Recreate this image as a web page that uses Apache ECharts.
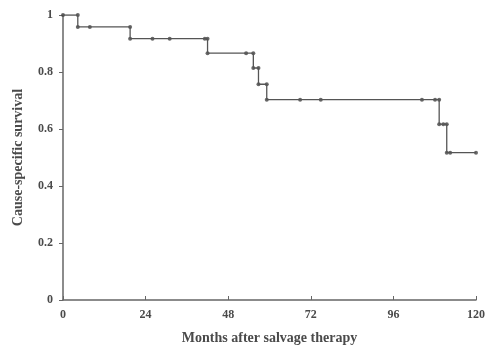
<!DOCTYPE html>
<html>
<head>
<meta charset="UTF-8">
<script src="https://cdn.jsdelivr.net/npm/echarts@6/dist/echarts.min.js"></script>
<style>
  body { margin: 0; background: #fff; }
  #root { width: 488px; height: 350px; }
</style>
</head>
<body>
<div id="root"></div>
<script>
// step corners of the survival curve (months, survival)
var stepMonths = [0, 4.3, 19.5, 42, 55.3, 56.8, 59.2, 109.3, 111.5, 120];
var stepSurv = [1, 0.958, 0.917, 0.866, 0.814, 0.757, 0.703, 0.617, 0.517, 0.517];

// censor / event marks along the curve
var markMonths = [0, 4.3, 4.3, 7.8, 19.5, 19.5, 26, 31, 41.2, 42, 42, 53.2, 55.3, 55.3, 56.8, 56.8, 59.2,
                  59.2, 68.9, 74.9, 104.3, 108.1, 109.3, 109.3, 110.5, 111.5, 111.5, 112.5, 120];
var markSurv = [1, 1, 0.958, 0.958, 0.958, 0.917, 0.917, 0.917, 0.917, 0.917, 0.866, 0.866, 0.866, 0.814, 0.814, 0.757, 0.757,
                0.703, 0.703, 0.703, 0.703, 0.703, 0.703, 0.617, 0.617, 0.617, 0.517, 0.517, 0.517];

var xTicks = [0, 24, 48, 72, 96, 120];

var font = 'Liberation Serif';
var txt = '#4a4a4a';

var chart = echarts.init(document.getElementById('root'));
chart.setOption({
  animation: false,
  grid: { left: 63, right: 12, top: 15, bottom: 43 },
  xAxis: {
    type: 'value',
    min: 0, max: 120, interval: 24,
    name: 'Months after salvage therapy',
    nameLocation: 'middle',
    nameGap: 31,
    nameTextStyle: { fontFamily: font, fontWeight: 'bold', fontSize: 14, color: txt },
    axisLine: { lineStyle: { color: '#666', width: 1.5 } },
    axisTick: { inside: true, length: 4, lineStyle: { color: '#666' } },
    axisLabel: { fontFamily: font, fontWeight: 'bold', fontSize: 12, color: txt, margin: 9,
      formatter: function (v) { return xTicks.indexOf(v) >= 0 ? String(v) : ''; } },
    splitLine: { show: false }
  },
  yAxis: {
    type: 'value',
    min: 0, max: 1, interval: 0.2,
    name: 'Cause-specific survival',
    nameLocation: 'middle',
    nameGap: 38,
    nameTextStyle: { fontFamily: font, fontWeight: 'bold', fontSize: 14, color: txt },
    axisLine: { show: true, lineStyle: { color: '#666', width: 1.5 } },
    axisTick: { show: true, length: 4, lineStyle: { color: '#666' } },
    axisLabel: { fontFamily: font, fontWeight: 'bold', fontSize: 12, color: txt, margin: 10 },
    splitLine: { show: false }
  },
  series: [
    {
      type: 'line',
      step: 'end',
      data: stepMonths.map(function (m, i) { return [m, stepSurv[i]]; }),
      showSymbol: false,
      lineStyle: { color: '#555', width: 1.3 }
    },
    {
      type: 'scatter',
      data: markMonths.map(function (m, i) { return [m, markSurv[i]]; }),
      symbol: 'circle',
      symbolSize: 4,
      itemStyle: { color: '#444' }
    }
  ]
});
</script>
</body>
</html>
